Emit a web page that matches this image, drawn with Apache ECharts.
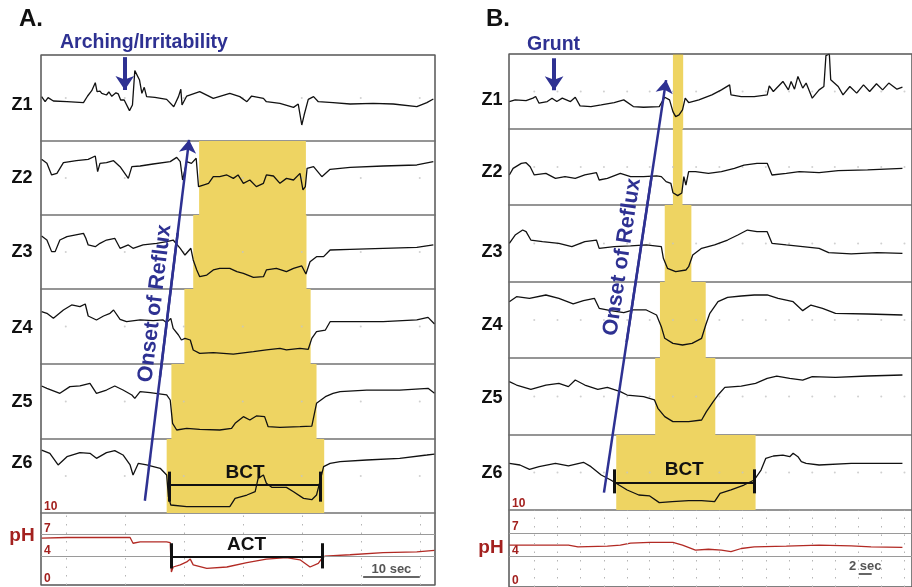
<!DOCTYPE html>
<html>
<head>
<meta charset="utf-8">
<style>
  html, body { margin: 0; padding: 0; background: #fff; }
  #chart { width: 912px; height: 587px; }
</style>
<script src="https://cdn.jsdelivr.net/npm/echarts@6/dist/echarts.min.js"></script>
</head>
<body>
<div id="chart"></div>
<script>
// ---------- data: panel A (time in s, impedance as % of channel range, pH units) ----------
const a_z1 = [[0.1,51.6],[0.7,45.7],[1.2,50.4],[2.1,46.5],[4.4,45.7],[7.2,44.6],[7.9,52.3],[8.6,58.5],[9.2,67.8],[9.5,57.4],[10.0,58],[10.3,55.4],[10.6,54],[11.1,53.5],[11.5,57],[12.0,52],[12.3,51.6],[12.7,56],[13.1,54.7],[13.5,47.7],[14.1,47.7],[15.0,35.3],[15.5,41.9],[15.9,81.8],[16.2,80.6],[16.7,70.9],[17.1,55.4],[17.5,62.4],[17.9,51.6],[19.3,50.8],[21.3,48.4],[22.5,39.9],[23.3,51.6],[23.7,60.1],[23.9,41.9],[24.7,52.3],[26.9,57.4],[29.2,49.6],[32.0,55.4],[33.7,51.6],[34.9,45.7],[35.7,52.3],[37.7,49.6],[38.2,45.7],[40.5,43.8],[42.8,39.1],[43.6,43.0],[44.2,18.6],[44.6,30.2],[45.3,48.4],[46.2,51.6],[47.0,45.7],[49.5,44.6],[52.4,43.0],[56.3,43.8],[59.7,43.0],[63.7,39.9],[65.4,44.6],[66.5,48.8]];
const a_z2 = [[0.1,75.2],[1.0,69.8],[1.8,54.1],[2.7,56.3],[3.8,70.7],[6.0,73.4],[8.0,75.2],[9.2,79.7],[9.6,58.6],[10.0,69.8],[11.1,70.7],[12.3,73.4],[13.4,65.3],[14.8,49.5],[15.4,65.3],[16.8,66.2],[19.0,68.9],[21.9,72.1],[23.0,77.9],[23.6,72.1],[24.0,47.3],[24.7,72.1],[25.5,69.8],[26.3,76.6],[26.7,38.3],[27.5,40.5],[28.4,42.8],[29.2,51.8],[30.3,51.8],[31.5,54.1],[32.6,49.5],[33.4,54.1],[34.3,42.8],[35.4,47.3],[36.5,38.3],[37.7,42.8],[38.2,54.1],[39.4,52.7],[40.5,42.8],[41.6,49.5],[42.8,47.3],[43.9,56.3],[44.4,33.8],[44.8,38.3],[45.1,63.1],[46.2,65.3],[47.6,51.8],[49.0,61.7],[52.4,64.4],[58.0,66.2],[63.7,67.6],[66.5,72.1]];
const a_z3 = [[0.1,71.6],[1.0,66.2],[1.8,50.5],[2.4,50.5],[3.2,66.2],[4.4,70.7],[7.2,75.2],[7.6,68.5],[8.0,59.5],[9.2,57.2],[10.0,61.7],[11.1,66.2],[12.5,68.5],[13.4,55.0],[14.8,59.5],[15.6,55.0],[17.3,59.5],[19.6,61.7],[21.3,64.0],[22.4,66.2],[23.6,55.0],[24.4,45.9],[25.4,55.0],[25.8,39.2],[26.4,25.7],[26.9,16.7],[28.1,18.9],[29.2,25.7],[30.3,27.9],[32.0,27.9],[33.2,23.4],[34.3,21.2],[36.0,15.8],[37.7,16.7],[38.2,25.7],[39.9,27.9],[41.6,23.4],[42.8,27.9],[44.2,31.1],[44.9,20.3],[45.6,36.9],[46.7,43.7],[47.9,43.7],[49.0,52.7],[52.4,53.6],[58.0,55.0],[63.7,56.3],[66.5,59.5]];
const a_z4 = [[0.1,69.8],[1.0,67.6],[2.1,60.9],[3.8,72.0],[5.2,78.7],[6.6,76.4],[7.5,80.0],[8.0,64.0],[9.4,58.7],[10.6,64.0],[11.7,67.6],[12.3,72.0],[13.4,59.6],[14.5,56.4],[16.8,58.7],[19.0,57.8],[20.7,58.7],[21.3,55.1],[22.0,60.9],[22.4,47.6],[23.3,38.7],[23.8,32.0],[24.4,34.2],[25.3,32.0],[25.8,18.7],[26.9,14.2],[29.2,15.1],[32.6,13.3],[36.0,16.4],[38.2,18.7],[40.5,20.9],[41.6,18.7],[43.9,20.9],[45.3,19.6],[45.9,34.2],[46.7,43.1],[48.2,45.3],[49.0,56.4],[52.4,56.4],[58.0,56.4],[63.7,58.7],[65.6,62.2],[66.7,53.3]];
const a_z5 = [[0.1,70.7],[1.0,67.6],[3.2,60.9],[4.9,69.8],[6.6,70.7],[8.3,74.2],[9.4,60.9],[11.1,65.3],[12.5,70.7],[13.9,65.3],[15.4,58.7],[15.9,54.2],[16.8,63.1],[18.5,61.8],[21.3,58.7],[21.9,52.0],[22.3,20.9],[23.0,12.0],[24.7,14.2],[26.9,12.9],[30.3,12.0],[32.3,14.2],[32.9,20.9],[34.3,29.8],[35.4,25.3],[36.5,30.7],[37.9,29.8],[38.5,16.4],[40.5,15.6],[43.9,16.4],[45.9,17.3],[46.7,47.6],[48.2,56.4],[49.5,60.9],[50.7,63.1],[55.2,65.3],[60.8,65.3],[65.6,67.6],[66.7,60.9]];
const a_z6 = [[0.1,85.1],[1.5,80.6],[2.9,64.9],[4.4,76.1],[6.6,81.5],[8.3,80.6],[9.4,73.9],[11.1,81.5],[12.5,84.2],[13.9,78.4],[15.1,64.9],[15.6,51.4],[16.5,67.1],[17.9,64.9],[20.2,60.4],[21.3,51.4],[21.6,22.1],[22.0,10.8],[24.7,8.6],[28.1,8.6],[32.0,8.6],[32.9,19.8],[34.9,24.3],[36.3,28.8],[36.8,46.8],[37.7,51.4],[38.2,40.1],[39.1,34.7],[41.6,34.7],[42.8,28.8],[44.5,19.8],[45.9,18.0],[46.7,24.3],[47.2,40.1],[47.9,62.6],[49.0,67.1],[50.7,69.4],[55.2,71.6],[60.8,73.9],[65.4,78.4],[66.7,79.7]];
const a_ph = [[0.1,6.5],[4.4,6.6],[15.1,6.6],[15.6,5.8],[16.8,6.0],[21.3,6.0],[21.9,5.9],[22.1,1.8],[22.4,2.5],[23.6,2.8],[24.7,3.2],[25.3,3.6],[25.8,2.8],[28.1,2.3],[31.5,2.5],[34.9,3.1],[38.2,3.6],[41.6,3.8],[43.9,3.5],[45.6,2.5],[47.0,3.0],[47.6,3.7],[48.1,4.0],[52.4,4.2],[58.0,4.5],[63.7,4.6],[66.7,4.8]];
// bolus (yellow) time ranges per channel Z1..Z6
const a_bolus = [null, [26.8,44.9], [25.8,45.0], [24.3,45.7], [22.1,46.7], [21.3,48.0]];
const a_gridTimes = [4.2,14.2,24.2,34.2,44.2,54.2,64.2];
const a_bct = {start: 21.8, end: 47.4, level: 37.8, lo: 15.3, hi: 55.9};
const a_act = {start: 22.1, end: 47.6, level: 3.9, lo: 2.3, hi: 5.8};
const a_scale = {start: 54.6, end: 64.2, level: 1.15, text: '10 sec'};
const a_onset = [[17.6,15.9],[25.1,84.0]];
const a_onsetTextAt = 0.542;   // fraction along the arrow where the text is centred
const a_event = [[14.2,99.6],[14.2,93.4]];

// ---------- data: panel B ----------
const b_z1 = [[0.05,36.6],[0.9,38.8],[2.5,37.9],[3.5,41.1],[3.9,43.3],[4.4,34.4],[5.6,36.6],[6.3,41.1],[7.0,36.6],[7.8,41.1],[9.0,36.6],[9.7,42.4],[10.4,30.8],[12.0,29.9],[13.5,32.1],[15.4,35.3],[16.8,38.8],[18.2,29.9],[19.7,29.0],[22.0,29.9],[22.8,42.4],[23.5,38.8],[24.0,23.2],[24.4,16.5],[24.9,18.8],[25.4,25.4],[25.8,41.1],[26.3,35.3],[27.8,38.8],[29.7,45.5],[31.1,52.2],[32.3,58.9],[32.5,45.5],[34.0,43.3],[35.9,43.3],[37.8,45.5],[38.1,57.6],[38.7,50.0],[39.4,56.7],[40.1,63.4],[40.9,52.2],[41.3,63.4],[41.8,53.1],[42.3,70.1],[43.0,54.5],[43.5,61.2],[44.4,41.1],[45.4,52.2],[46.1,56.7],[46.4,97.8],[46.6,100],[46.9,100],[47.1,65.6],[48.2,56.7],[48.9,45.5],[49.9,56.7],[50.9,47.8],[51.9,58.9],[52.8,50.0],[53.8,60.3],[54.7,52.2],[55.6,61.2],[56.8,53.1],[57.6,55.8]];
const b_z2 = [[0.05,39.5],[0.6,48.2],[1.8,54.8],[2.5,55.7],[3.1,50.4],[3.7,39.5],[5.4,41.7],[6.8,35.1],[8.2,37.3],[9.7,35.1],[11.1,39.5],[12.8,42.5],[13.2,32.9],[14.4,35.1],[16.3,41.7],[17.8,37.3],[19.7,37.3],[21.6,38.2],[22.3,37.3],[23.0,30.7],[23.7,28.5],[24.0,16.2],[24.7,12.3],[25.3,15.8],[25.6,37.3],[25.9,26.3],[26.3,43.9],[27.3,43.9],[29.2,41.7],[31.1,43.9],[33.0,48.2],[34.4,52.6],[36.3,54.8],[37.8,54.8],[38.5,39.5],[40.6,41.7],[42.5,43.9],[45.4,42.5],[48.2,45.2],[52.5,46.1],[57.6,48.2]];
const b_z3 = [[0.05,50.2],[0.9,61.0],[2.0,67.5],[2.5,65.4],[3.2,54.5],[4.9,52.4],[7.3,50.2],[9.2,45.9],[11.1,52.4],[12.8,54.5],[13.2,43.7],[15.4,45.9],[17.8,46.8],[20.1,48.1],[22.3,45.9],[22.6,30.7],[23.2,17.7],[24.4,13.4],[25.9,15.6],[26.3,19.9],[26.9,35.1],[28.2,43.7],[30.1,48.1],[32.0,54.5],[33.5,61.0],[34.9,67.5],[36.3,65.4],[37.8,65.4],[38.5,50.2],[40.6,48.1],[43.0,45.9],[45.4,43.7],[46.8,38.1],[50.1,36.4],[53.9,38.1],[57.6,37.2]];
const b_z4 = [[0.05,74.1],[1.1,80.7],[3.0,78.5],[5.4,82.9],[7.3,78.5],[9.4,71.1],[10.9,75.4],[12.5,78.5],[13.2,65.4],[14.9,62.3],[16.8,59.6],[18.2,63.2],[20.1,63.2],[21.6,56.6],[22.3,41.2],[22.8,25.9],[24.0,19.3],[25.4,17.1],[26.8,19.3],[28.2,25.9],[28.8,43.4],[29.4,58.8],[30.6,74.1],[32.0,79.8],[34.0,81.6],[35.9,82.9],[37.8,82.9],[39.4,78.5],[41.6,74.1],[43.0,62.3],[44.2,69.7],[45.9,65.4],[47.8,58.8],[52.5,57.9],[57.6,56.6]];
const b_z5 = [[0.05,69.3],[1.1,64.9],[3.2,59.3],[5.4,64.9],[7.3,67.1],[8.7,62.8],[9.7,71.4],[11.1,64.9],[13.0,59.3],[14.4,61.9],[16.3,56.3],[17.3,51.9],[19.7,49.8],[21.3,45.5],[21.8,34.6],[22.8,23.8],[24.0,17.3],[26.3,17.3],[28.2,19.5],[28.9,30.3],[29.9,43.3],[30.6,51.9],[31.6,61.9],[34.0,63.6],[36.1,67.1],[37.8,73.6],[39.2,76.6],[41.1,73.6],[43.0,71.4],[44.4,75.8],[47.8,74.9],[52.5,76.6],[57.6,77.9]];
const b_z6 = [[0.05,62.2],[1.6,60.0],[3.0,54.2],[4.4,57.8],[6.8,62.2],[8.7,58.7],[10.9,63.6],[12.0,57.8],[13.5,46.7],[14.9,40.0],[16.1,33.3],[17.3,26.7],[19.0,20.0],[20.6,18.7],[22.0,9.8],[23.9,11.1],[26.3,12.4],[28.2,12.4],[30.1,11.1],[30.9,22.2],[32.5,26.7],[34.4,33.3],[35.9,40.0],[36.9,53.3],[37.6,68.9],[38.7,72.0],[40.1,73.3],[41.1,71.1],[41.6,75.6],[42.3,71.1],[42.8,64.4],[43.5,62.2],[45.4,60.0],[50.1,62.2],[54.9,62.2],[57.6,62.2]];
const b_ph = [[0.05,5.45],[4.9,5.45],[8.7,5.45],[10.1,5.2],[14.4,5.3],[16.3,5.45],[17.8,5.7],[20.6,5.8],[24.0,5.8],[25.4,5.45],[27.3,4.8],[29.2,4.9],[31.1,4.8],[32.5,4.6],[34.0,5.0],[35.9,5.2],[40.6,5.3],[45.4,5.45],[50.1,5.35],[53.0,5.2],[57.6,5.15]];
const b_bolus = [[24.0,25.5], [24.0,25.4], [22.8,26.7], [22.1,28.8], [21.4,30.2], [15.7,36.1]];
const b_gridTimes = [3.7,7.1,10.5,13.9,17.3,20.6,24.0,27.4,30.8,34.2,37.6,41.0,44.4,47.7,51.1,54.5,57.9];
const b_bct = {start: 15.4, end: 35.9, level: 36.4, lo: 22.2, hi: 54.2};
const b_scale = {start: 51.2, end: 53.1, level: 1.7, text: '2 sec'};
const b_onset = [[13.9,17.7],[23.0,95.1]];
const b_onsetTextAt = 0.565;
const b_event = [[6.6,99.2],[6.6,93.2]];

const channelNames = ['Z1','Z2','Z3','Z4','Z5','Z6'];
const phTicks = [0, 4, 7, 10];

// ---------- styling / layout ----------
const FONT = '"Liberation Sans", Arial, Helvetica, sans-serif';
const BLUE = '#2e3192';
const RED = '#a3211f';
const YELLOW = '#eed462';
const OLIVE = '#5e5228';
const LAYOUT_A = {left: 41, width: 394, xMax: 66.78, textDist: 3,
  bands: [[55,86],[141,74],[215,74],[289,75],[364,75],[439,74],[513,72]]};
const LAYOUT_B = {left: 509, width: 413, xMax: 59, textDist: 6,
  bands: [[54,75],[129,76],[205,77],[282,76],[358,77],[435,75],[510,77]]};

const grids = [], xAxes = [], yAxes = [], series = [], visualMaps = [];

function addGrid(L, top, height, yMax, extra) {
  const i = grids.length;
  grids.push(Object.assign({
    left: L.left, width: L.width, top: top, height: height,
    show: true, borderColor: '#8e8e8e', borderWidth: 1.5, backgroundColor: 'transparent'
  }, extra || {}));
  xAxes.push({type: 'value', gridIndex: i, min: 0, max: L.xMax, show: false});
  yAxes.push({type: 'value', gridIndex: i, min: 0, max: yMax, show: false});
  return i;
}

function bar(t0, t1, y0, y1, width, color) {
  return [{coord: [t0, y0], lineStyle: {color: color, width: width, type: 'solid'}}, {coord: [t1, y1]}];
}

function lerp(p, q, f) {
  return [p[0] + (q[0] - p[0]) * f, p[1] + (q[1] - p[1]) * f];
}

function buildPanel(L, traces, bolus, ph, gridTimes, bct, act, scale, onset, onsetAt, event) {
  for (let k = 0; k < 6; k++) {
    const gi = addGrid(L, L.bands[k][0], L.bands[k][1], 100);
    // faint grid dots
    series.push({
      type: 'scatter', xAxisIndex: gi, yAxisIndex: gi, silent: true, z: 1,
      symbolSize: 2, itemStyle: {color: '#c4c4c4'},
      data: gridTimes.map(t => [t, 50])
    });
    const s = {
      type: 'line', xAxisIndex: gi, yAxisIndex: gi, data: traces[k],
      symbol: 'none', silent: true, z: 3,
      lineStyle: {width: 1.3, color: '#111'}
    };
    if (bolus[k]) {
      s.markArea = {silent: true, itemStyle: {color: YELLOW}, data: [[{xAxis: bolus[k][0]}, {xAxis: bolus[k][1]}]]};
      visualMaps.push({
        type: 'piecewise', show: false, seriesIndex: series.length, dimension: 0,
        pieces: [{gte: bolus[k][0], lte: bolus[k][1], color: OLIVE}],
        outOfRange: {color: '#111'}
      });
    }
    if (k === 5) {
      s.markLine = {
        silent: true, symbol: 'none', z: 4,
        label: {show: false},
        data: [
          [{coord: [bct.start, bct.level], lineStyle: {color: '#111', width: 2.2, type: 'solid'},
            label: {show: true, position: 'insideMiddleTop', formatter: 'BCT', distance: 3,
                    color: '#111', fontSize: 19, fontWeight: 'bold', fontFamily: FONT}},
           {coord: [bct.end, bct.level]}],
          bar(bct.start, bct.start, bct.lo, bct.hi, 3, '#111'),
          bar(bct.end, bct.end, bct.lo, bct.hi, 3, '#111')
        ]
      };
    }
    series.push(s);
  }
  // pH channel
  const pi = addGrid(L, L.bands[6][0], L.bands[6][1], 10);
  yAxes[pi] = {
    type: 'value', gridIndex: pi, min: 0, max: 10,
    axisLine: {show: false}, axisTick: {show: false}, splitLine: {show: false},
    axisLabel: {inside: true, customValues: phTicks, margin: 3, verticalAlign: 'bottom',
                color: RED, fontWeight: 'bold', fontSize: 12, fontFamily: FONT}
  };
  const phMarks = [
    {yAxis: 4, lineStyle: {color: '#9a9a9a', width: 1.2, type: 'solid'}},
    {yAxis: 7, lineStyle: {color: '#9a9a9a', width: 1.2, type: 'solid'}}
  ];
  gridTimes.forEach(t => phMarks.push({xAxis: t, lineStyle: {color: '#b5b5b5', width: 1, type: [1.5, 7]}}));
  if (act) {
    phMarks.push([{coord: [act.start, act.level], lineStyle: {color: '#111', width: 2.2, type: 'solid'},
      label: {show: true, position: 'insideMiddleTop', formatter: 'ACT', distance: 3,
              color: '#111', fontSize: 19, fontWeight: 'bold', fontFamily: FONT}},
      {coord: [act.end, act.level]}]);
    phMarks.push(bar(act.start, act.start, act.lo, act.hi, 3, '#111'));
    phMarks.push(bar(act.end, act.end, act.lo, act.hi, 3, '#111'));
  }
  phMarks.push([{coord: [scale.start, scale.level], lineStyle: {color: '#666', width: 2, type: 'solid'},
    label: {show: true, position: 'insideMiddleTop', formatter: scale.text, distance: 1,
            color: '#555', fontSize: 13, fontWeight: 'bold', fontFamily: FONT}},
    {coord: [scale.end, scale.level]}]);
  series.push({
    type: 'line', xAxisIndex: pi, yAxisIndex: pi, data: ph, symbol: 'none', silent: true, z: 3,
    lineStyle: {width: 1.3, color: '#b22a24'},
    markLine: {silent: true, symbol: 'none', label: {show: false}, data: phMarks}
  });
  // overlay spanning the whole panel, for annotation arrows
  const top = L.bands[0][0];
  const bottom = L.bands[6][0] + L.bands[6][1];
  const oi = addGrid(L, top, bottom - top, 100, {borderColor: '#555', borderWidth: 1, z: 5});
  const arrowStyle = {color: BLUE, width: 2.5, type: 'solid'};
  series.push({
    type: 'line', xAxisIndex: oi, yAxisIndex: oi, data: [], silent: true, z: 6,
    markLine: {
      silent: true, symbol: ['none', 'none'], label: {show: false},
      data: [
        [{coord: onset[0], lineStyle: arrowStyle},
         {coord: onset[1], symbol: 'arrow', symbolSize: 13}],
        // short piece laid over the arrow, only to carry the rotated text
        [{coord: lerp(onset[0], onset[1], onsetAt - 0.2), lineStyle: arrowStyle,
          label: {show: true, position: 'insideMiddleTop', formatter: 'Onset of Reflux', distance: L.textDist,
                  color: BLUE, fontSize: 21.5, fontWeight: 'bold', fontFamily: FONT}},
         {coord: lerp(onset[0], onset[1], onsetAt + 0.2)}],
        [{coord: event[0], lineStyle: {color: BLUE, width: 4, type: 'solid'}},
         {coord: event[1], symbol: 'arrow', symbolSize: 14}]
      ]
    }
  });
}

buildPanel(LAYOUT_A, [a_z1, a_z2, a_z3, a_z4, a_z5, a_z6], a_bolus, a_ph, a_gridTimes,
           a_bct, a_act, a_scale, a_onset, a_onsetTextAt, a_event);
buildPanel(LAYOUT_B, [b_z1, b_z2, b_z3, b_z4, b_z5, b_z6], b_bolus, b_ph, b_gridTimes,
           b_bct, null, b_scale, b_onset, b_onsetTextAt, b_event);

// ---------- text labels ----------
function label(text, x, y, size, color, align) {
  return {type: 'text', x: x, y: y, silent: true, z: 10,
    style: {text: text, fill: color, font: 'bold ' + size + 'px ' + FONT,
            textAlign: align || 'center', textVerticalAlign: 'middle'}};
}
const zLabelYA = [105, 178, 252, 328, 402, 463];
const zLabelYB = [100, 172, 252, 325, 398, 473];
const graphics = [
  label('A.', 19, 19, 24, '#111', 'left'),
  label('B.', 486, 19, 24, '#111', 'left'),
  label('Arching/Irritability', 60, 43, 19.5, BLUE, 'left'),
  label('Grunt', 527, 45, 19.5, BLUE, 'left'),
  label('pH', 22, 536, 19, RED),
  label('pH', 491, 548, 19, RED)
];
channelNames.forEach((n, k) => {
  graphics.push(label(n, 22, zLabelYA[k], 18, '#111'));
  graphics.push(label(n, 492, zLabelYB[k], 18, '#111'));
});

const chart = echarts.init(document.getElementById('chart'));
chart.setOption({
  animation: false,
  backgroundColor: '#fff',
  grid: grids,
  xAxis: xAxes,
  yAxis: yAxes,
  visualMap: visualMaps,
  series: series,
  graphic: graphics
});
</script>
</body>
</html>
